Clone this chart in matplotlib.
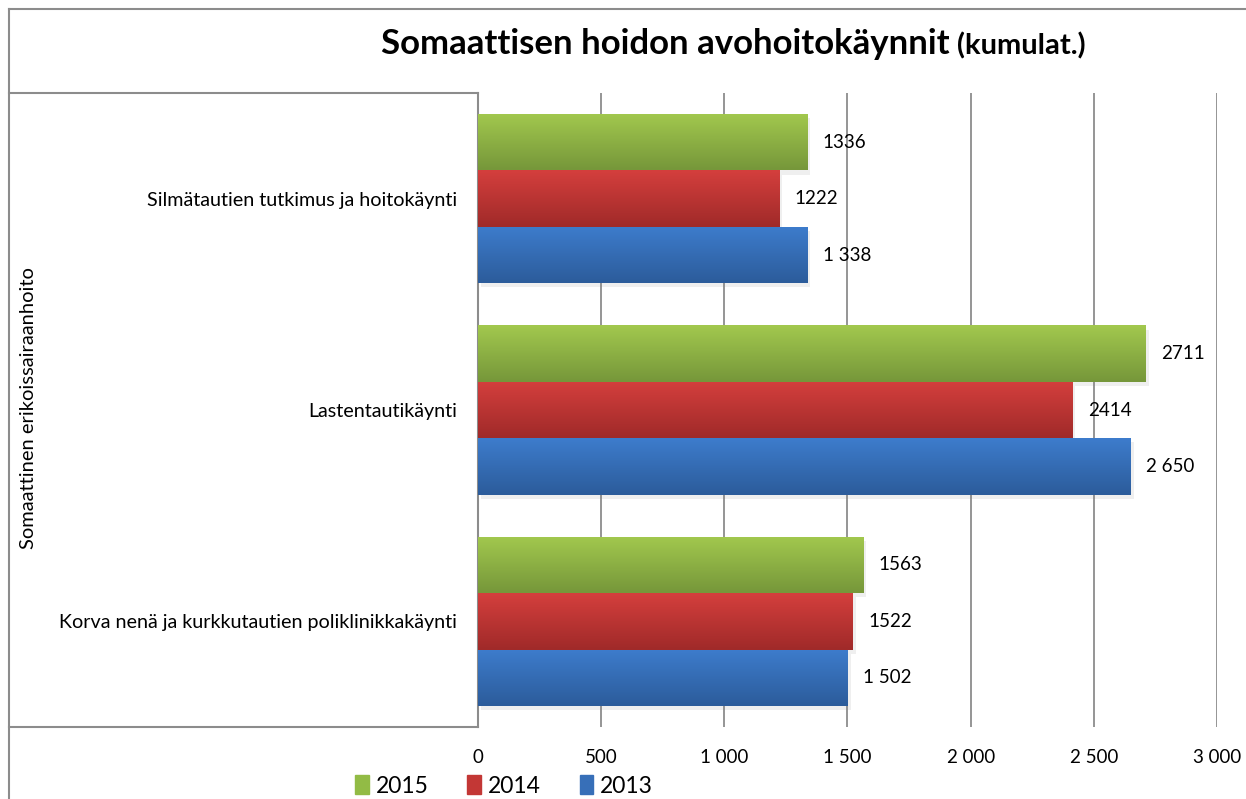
import numpy as np
import matplotlib
matplotlib.use("Agg")
import matplotlib.pyplot as plt
from matplotlib.lines import Line2D
from matplotlib.patches import Patch
from matplotlib.colors import LinearSegmentedColormap
import matplotlib.patheffects as pe

plt.rcParams["font.family"] = ["Lato", "DejaVu Sans"]

categories = [
    "Silmätautien tutkimus ja hoitokäynti",
    "Lastentautikäynti",
    "Korva nenä ja kurkkutautien poliklinikkakäynti",
]
years = ["2015", "2014", "2013"]
values_2015 = [1336, 2711, 1563]
values_2014 = [1222, 2414, 1522]
values_2013 = [1338, 2650, 1502]
series = [values_2015, values_2014, values_2013]

# gradient top -> bottom for each series
grads = [("#a2c84e", "#76973a"), ("#d43f3d", "#a02a29"), ("#3d7ccc", "#2c5c9b")]
legend_cols = ["#92bb45", "#c33735", "#376fb8"]

W, H = 1246, 799
fig = plt.figure(figsize=(W / 100, H / 100), dpi=100)
ax = fig.add_axes([478 / W, 1 - 727 / H, (1217 - 478) / W, (727 - 93) / H])

n = len(series)
h = 0.8 / n
y = np.arange(len(categories))

for k, vals in enumerate(series):
    pos = y - 0.4 + h * (k + 0.5)
    bars = ax.barh(pos, vals, height=h, color=grads[k][1], zorder=3,
                   path_effects=[pe.SimplePatchShadow(offset=(2, -3), alpha=0.12, shadow_rgbFace="gray"), pe.Normal()])
    cmap = LinearSegmentedColormap.from_list("g", grads[k])
    for b, v, p in zip(bars, vals, pos):
        x0, y0 = b.get_x(), b.get_y()
        im = ax.imshow(np.linspace(0, 1, 64).reshape(-1, 1), cmap=cmap, aspect="auto",
                       extent=(x0, x0 + b.get_width(), y0 + b.get_height(), y0),
                       interpolation="bicubic", zorder=4)
        im.set_clip_path(b)
        txt = f"{v:,}".replace(",", " ") if k == 2 else str(v)
        ax.annotate(txt, (v, p), xytext=(11, 0), textcoords="offset points",
                    va="center", ha="left", fontsize=13.5, zorder=5)

ax.set_xlim(0, 3000)
ax.set_ylim(len(categories) - 0.5, -0.5)
ax.set_xticks(range(0, 3001, 500))
ax.set_xticklabels([f"{t:,}".replace(",", " ") for t in range(0, 3001, 500)], fontsize=13.5)
ax.tick_params(axis="x", length=0, pad=16)
ax.set_yticks(y)
ax.set_yticklabels(categories, fontsize=14.2)
ax.tick_params(axis="y", length=0, pad=15)
ax.grid(axis="x", color="#8c8c8c", linewidth=1.3, zorder=0)
for s in ["top", "right", "bottom"]:
    ax.spines[s].set_visible(False)
ax.spines["left"].set_color("#8c8c8c")
ax.spines["left"].set_linewidth(1.5)

# category box and outer frame
lc = "#8c8c8c"
def fl(xs, ys):
    fig.add_artist(Line2D([x / W for x in xs], [1 - v / H for v in ys], color=lc, linewidth=1.5))
fl([9, 478], [93, 93])
fl([9, 478], [727, 727])
fl([9, W], [9, 9])
fl([9, 9], [9, H])

fig.text(29 / W, 1 - 408 / H, "Somaattinen erikoissairaanhoito", rotation=90,
         ha="center", va="center", fontsize=14.5)

fig.text(950 / W, 1 - 44 / H, "Somaattisen hoidon avohoitokäynnit", ha="right", va="center",
         fontsize=25, fontweight="bold")
fig.text(957 / W, 1 - 46 / H, "(kumulat.)", ha="left", va="center", fontsize=21, fontweight="bold")

handles = [Patch(color=c) for c in legend_cols]
fig.legend(handles, years, loc="center", bbox_to_anchor=(504 / W, 1 - 786 / H), ncol=3,
           frameon=False, fontsize=16.5, handlelength=0.6, handleheight=0.9,
           handletextpad=0.3, columnspacing=1.7, borderpad=0.1)

fig.savefig("out.png", dpi=100)
